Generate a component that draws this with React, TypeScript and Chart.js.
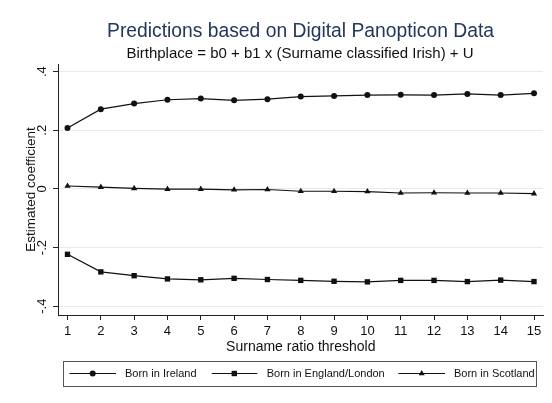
import React, { useEffect, useRef } from 'react';
import { Chart, registerables } from 'chart.js';

Chart.register(...registerables);

const thresholds = [1, 2, 3, 4, 5, 6, 7, 8, 9, 10, 11, 12, 13, 14, 15];
const bornIreland = [0.208, 0.272, 0.291, 0.304, 0.308, 0.302, 0.306, 0.315, 0.317, 0.320, 0.321, 0.320, 0.324, 0.320, 0.326];
const bornEngland = [-0.223, -0.283, -0.296, -0.307, -0.310, -0.305, -0.309, -0.312, -0.315, -0.317, -0.312, -0.312, -0.316, -0.311, -0.316];
const bornScotland = [0.010, 0.006, 0.002, -0.001, -0.001, -0.003, -0.002, -0.008, -0.008, -0.009, -0.014, -0.013, -0.014, -0.014, -0.016];
const yTicks = [-0.4, -0.2, 0, 0.2, 0.4];
const yTickLabels = ['-.4', '-.2', '0', '.2', '.4'];
const seriesNames = ['Born in Ireland', 'Born in England/London', 'Born in Scotland'];
const seriesMarkers = ['circle', 'rect', 'triangle'];

const TITLE = 'Predictions based on Digital Panopticon Data';
const SUBTITLE = 'Birthplace = b0 + b1 x (Surname classified Irish) + U';
const X_TITLE = 'Surname ratio threshold';
const Y_TITLE = 'Estimated coefficient';

const FONT = '"Liberation Sans", Arial, Helvetica, sans-serif';
const INK = '#111111';

function drawMarker(ctx: CanvasRenderingContext2D, kind: string, x: number, y: number) {
  ctx.beginPath();
  if (kind === 'circle') {
    ctx.arc(x, y, 3, 0, Math.PI * 2);
  } else if (kind === 'rect') {
    ctx.rect(x - 2.7, y - 2.7, 5.4, 5.4);
  } else {
    const r = 3.5;
    ctx.moveTo(x, y - r);
    ctx.lineTo(x + r * 0.866, y + r * 0.5);
    ctx.lineTo(x - r * 0.866, y + r * 0.5);
    ctx.closePath();
  }
  ctx.fill();
}

const decorPlugin = {
  id: 'decor',
  afterDraw(chart: any) {
    const ctx: CanvasRenderingContext2D = chart.ctx;
    const area = chart.chartArea;
    const ys = chart.scales.y;
    ctx.save();
    // titles
    ctx.textAlign = 'center';
    ctx.textBaseline = 'alphabetic';
    ctx.fillStyle = '#22365e';
    ctx.font = `19.3px ${FONT}`;
    ctx.fillText(TITLE, 300.5, 37);
    ctx.fillStyle = INK;
    ctx.font = `15px ${FONT}`;
    ctx.fillText(SUBTITLE, 300, 58.3);

    // x axis title
    ctx.font = `14px ${FONT}`;
    ctx.fillText(X_TITLE, 300.8, 350.7);

    // y tick labels rotated
    yTicks.forEach((v, i) => {
      const py = ys.getPixelForValue(v);
      ctx.save();
      ctx.translate(45.5, py);
      ctx.rotate(-Math.PI / 2);
      ctx.textAlign = 'center';
      ctx.textBaseline = 'alphabetic';
      ctx.font = `13px ${FONT}`;
      ctx.fillText(yTickLabels[i], 0, 0);
      ctx.restore();
    });

    // y axis title
    ctx.save();
    ctx.translate(34.7, (area.top + area.bottom) / 2);
    ctx.rotate(-Math.PI / 2);
    ctx.textAlign = 'center';
    ctx.textBaseline = 'alphabetic';
    ctx.font = `13.5px ${FONT}`;
    ctx.fillText(Y_TITLE, 0, 0);
    ctx.restore();

    // legend box
    ctx.strokeStyle = '#555555';
    ctx.lineWidth = 1;
    ctx.strokeRect(63.5, 361.5, 473, 25);
    const items = [
      { l0: 69.5, l1: 116, m: 92.7, t: 125 },
      { l0: 211.7, l1: 257.3, m: 234.3, t: 266.7 },
      { l0: 398.3, l1: 445, m: 421.7, t: 454 },
    ];
    const ly = 373.5;
    ctx.font = `11px ${FONT}`;
    ctx.textAlign = 'left';
    ctx.textBaseline = 'middle';
    items.forEach((it, i) => {
      ctx.strokeStyle = INK;
      ctx.lineWidth = 1.2;
      ctx.beginPath();
      ctx.moveTo(it.l0, ly);
      ctx.lineTo(it.l1, ly);
      ctx.stroke();
      ctx.fillStyle = INK;
      drawMarker(ctx, seriesMarkers[i], it.m, ly);
      ctx.fillText(seriesNames[i], it.t, ly);
    });
    ctx.restore();
  },
};

export default function App() {
  const ref = useRef<HTMLCanvasElement | null>(null);

  useEffect(() => {
    document.body.style.margin = '0';
    const canvas = ref.current;
    if (!canvas) return;
    const mk = (vals: number[]) => thresholds.map((t, i) => ({ x: t, y: vals[i] }));
    const base = {
      borderColor: INK,
      backgroundColor: INK,
      pointBackgroundColor: INK,
      pointBorderColor: INK,
      pointBorderWidth: 0,
      borderWidth: 1.2,
      tension: 0,
      fill: false,
    };
    const chart = new Chart(canvas, {
      type: 'line',
      data: {
        datasets: [
          { ...base, label: seriesNames[0], data: mk(bornIreland), pointStyle: 'circle', pointRadius: 3 },
          { ...base, label: seriesNames[1], data: mk(bornEngland), pointStyle: 'rect', pointRadius: 3.8 },
          { ...base, label: seriesNames[2], data: mk(bornScotland), pointStyle: 'triangle', pointRadius: 3.6 },
        ],
      },
      options: {
        animation: false,
        responsive: false,
        devicePixelRatio: 1,
        layout: { padding: { top: 64, right: 9, bottom: 0, left: 0 } },
        plugins: {
          legend: { display: false },
          title: { display: false },
          tooltip: { enabled: false },
        },
        scales: {
          x: {
            type: 'linear',
            min: 0.715,
            max: 15.27,
            afterBuildTicks: (s: any) => {
              s.ticks = thresholds.map((v) => ({ value: v }));
            },
            afterFit: (s: any) => {
              s.height = 88;
            },
            grid: {
              display: true,
              drawOnChartArea: false,
              drawTicks: true,
              tickLength: 5,
              color: '#222222',
              tickColor: '#222222',
            },
            border: { display: true, color: '#222222', width: 1 },
            ticks: {
              color: INK,
              font: { family: FONT, size: 13 },
              padding: 4,
              maxRotation: 0,
              autoSkip: false,
              callback: (v: any) => String(v),
            },
          },
          y: {
            type: 'linear',
            min: -0.43,
            max: 0.426,
            afterBuildTicks: (s: any) => {
              s.ticks = yTicks.map((v) => ({ value: v }));
            },
            afterFit: (s: any) => {
              s.width = 58;
            },
            grid: {
              display: true,
              drawOnChartArea: true,
              drawTicks: true,
              tickLength: 5,
              color: '#e3ecef',
              tickColor: '#222222',
            },
            border: { display: true, color: '#222222', width: 1 },
            ticks: { display: false },
          },
        },
      },
      plugins: [decorPlugin],
    });
    return () => chart.destroy();
  }, []);

  return (
    <div style={{ position: 'absolute', left: 0, top: 0, width: 552, height: 403, background: '#fff' }}>
      <canvas ref={ref} width={552} height={403} style={{ width: 552, height: 403, display: 'block' }} />
    </div>
  );
}
